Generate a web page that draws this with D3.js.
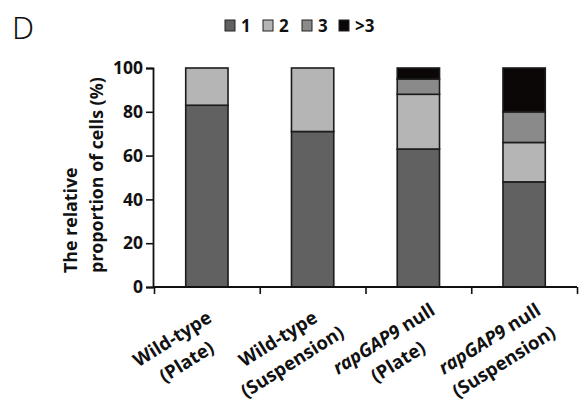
<!DOCTYPE html>
<html>
<head>
<meta charset="utf-8">
<script src="https://cdn.jsdelivr.net/npm/d3@7"></script>
<style>
  html, body { margin: 0; padding: 0; background: #fff; }
  svg { display: block; }
  text { font-family: "Open Sans", "Noto Sans", sans-serif; }
</style>
</head>
<body>
<svg id="chart" width="588" height="402"></svg>
<script>
// Groups along the x axis (line 1 / line 2 of each label)
const groups = ["wt-plate", "wt-susp", "null-plate", "null-susp"];
const labelLine1 = [["Wild-type"], ["Wild-type"], ["rapGAP9", " null"], ["rapGAP9", " null"]];
const labelLine2 = ["(Plate)", "(Suspension)", "(Plate)", "(Suspension)"];

// Percentage of cells per class
const classKeys = ["1", "2", "3", ">3"];
const class1 = [83, 71, 63, 48];
const class2 = [17, 29, 25, 18];
const class3 = [0, 0, 7, 14];
const classMore = [0, 0, 5, 20];
const classColors = ["#616161", "#b5b5b5", "#8a8a8a", "#0b0707"];

const yTicks = [0, 20, 40, 60, 80, 100];

const rows = groups.map((g, i) => ({
  group: g,
  "1": class1[i], "2": class2[i], "3": class3[i], ">3": classMore[i]
}));

const svg = d3.select("#chart");
const margin = { left: 153, right: 11, top: 68, bottom: 115 };
const W = 588, H = 402;

const x = d3.scaleBand()
  .domain(groups)
  .range([margin.left + 1, W - margin.right])
  .paddingInner(0.6)
  .paddingOuter(0.3);

const y = d3.scaleLinear()
  .domain([0, 100])
  .range([H - margin.bottom, margin.top]);

const stack = d3.stack().keys(classKeys)(rows);
const color = d3.scaleOrdinal().domain(classKeys).range(classColors);

// Panel letter
svg.append("text")
  .attr("x", 12).attr("y", 39)
  .attr("font-size", 31).attr("font-weight", 300)
  .attr("fill", "#111")
  .style("font-family", "'Noto Sans', sans-serif")
  .text("D");

// Stacked bars
svg.append("g").selectAll("g")
  .data(stack)
  .join("g")
  .attr("fill", d => color(d.key))
  .selectAll("rect")
  .data(d => d.filter(s => s[1] - s[0] > 0))
  .join("rect")
  .attr("x", d => x(d.data.group))
  .attr("width", x.bandwidth())
  .attr("y", d => y(d[1]))
  .attr("height", d => y(d[0]) - y(d[1]))
  .attr("stroke", "#1c1c1c")
  .attr("stroke-width", 1.6);

// Y axis
const yAxis = svg.append("g")
  .attr("transform", `translate(${margin.left},0)`)
  .call(d3.axisLeft(y).tickValues(yTicks).tickSize(7).tickPadding(3));
yAxis.select(".domain").attr("stroke", "#111").attr("stroke-width", 1.8);
yAxis.selectAll(".tick line").attr("stroke", "#111").attr("stroke-width", 1.6);
yAxis.selectAll(".tick text")
  .attr("font-size", 17.5).attr("font-weight", 700).attr("fill", "#111")
  .style("font-family", "'Open Sans', sans-serif");

// X axis: line with ticks at the group boundaries
const x1 = W - margin.right;
const xb = d3.scaleLinear().domain([0, groups.length]).range([margin.left + 1, x1]);
const xAxis = svg.append("g")
  .attr("transform", `translate(0,${y(0)})`)
  .call(d3.axisBottom(xb).tickValues(d3.range(groups.length + 1)).tickSize(7).tickFormat(""));
xAxis.select(".domain").attr("stroke", "#111").attr("stroke-width", 1.8)
  .attr("d", `M${margin.left},0H${x1}`);
xAxis.selectAll(".tick line").attr("stroke", "#111").attr("stroke-width", 1.6);

// Rotated two-line category labels
const labels = svg.append("g").selectAll("g")
  .data(groups)
  .join("g")
  .attr("transform", g => `translate(${x(g) + x.bandwidth() / 2 - 27},${y(0) + 64}) rotate(-32)`);
labels.each(function (g, i) {
  const t = d3.select(this).append("text")
    .attr("text-anchor", "middle")
    .attr("font-size", 18.5).attr("font-weight", 700).attr("fill", "#111");
  const l1 = t.append("tspan").attr("x", 0).attr("y", -8);
  labelLine1[i].forEach(part => {
    l1.append("tspan")
      .attr("font-style", part.startsWith("rap") ? "italic" : "normal")
      .text(part);
  });
  t.append("tspan").attr("x", 0).attr("y", 19).text(labelLine2[i]);
});

// Y axis title
const yTitle = svg.append("text")
  .attr("transform", `translate(77,273) rotate(-90)`)
  .attr("font-size", 17.8).attr("font-weight", 700).attr("fill", "#111");
yTitle.append("tspan").attr("x", 0).attr("y", 0).text("The relative");
yTitle.append("tspan").attr("x", 0).attr("y", 26).text("proportion of cells (%)");

// Legend
const legendX = [225, 263, 302, 339];
const legend = svg.append("g").selectAll("g")
  .data(classKeys)
  .join("g")
  .attr("transform", (k, i) => `translate(${legendX[i]},20)`);
legend.append("rect")
  .attr("width", 10).attr("height", 11)
  .attr("fill", k => color(k))
  .attr("stroke", "#222").attr("stroke-width", 1);
legend.append("text")
  .attr("x", 16).attr("y", 12)
  .attr("font-size", 17).attr("font-weight", 700).attr("fill", "#111")
  .text(k => k);
</script>
</body>
</html>
